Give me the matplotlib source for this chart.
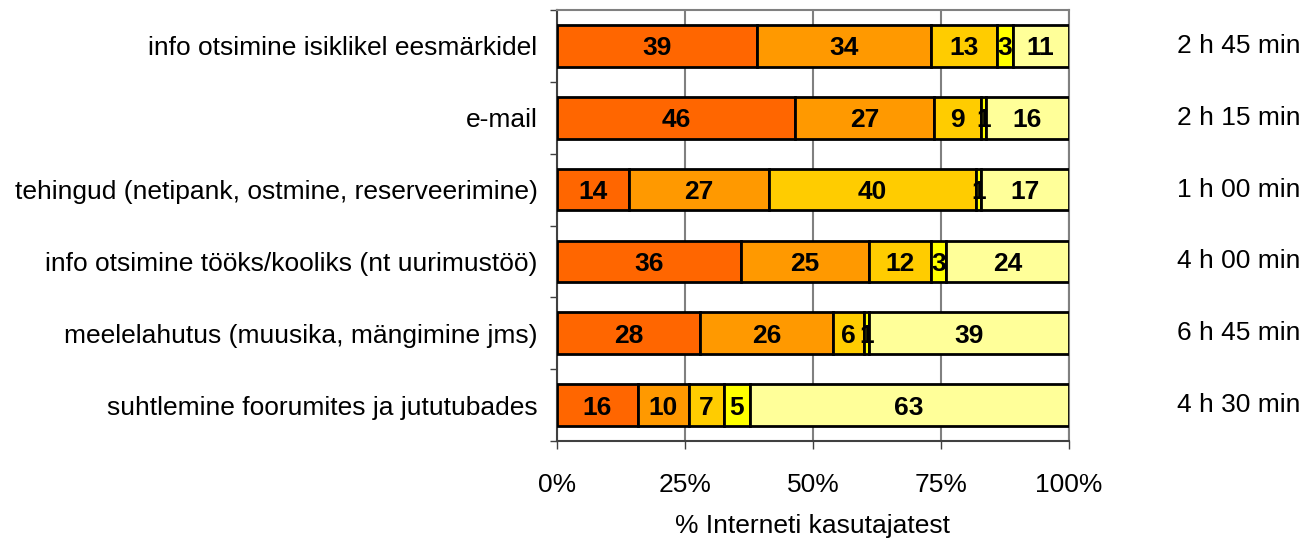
import matplotlib
matplotlib.use("Agg")
import matplotlib.pyplot as plt
import matplotlib.transforms as mtransforms
import numpy as np

plt.rcParams['font.family'] = ['Liberation Sans', 'DejaVu Sans']

categories = [
    "info otsimine isiklikel eesmärkidel",
    "e-mail",
    "tehingud (netipank, ostmine, reserveerimine)",
    "info otsimine tööks/kooliks (nt uurimustöö)",
    "meelelahutus (muusika, mängimine jms)",
    "suhtlemine foorumites ja jututubades",
]
times = ["2 h 45 min", "2 h 15 min", "1 h 00 min", "4 h 00 min", "6 h 45 min", "4 h 30 min"]

s1 = [39, 46, 14, 36, 28, 16]
s2 = [34, 27, 27, 25, 26, 10]
s3 = [13, 9, 40, 12, 6, 7]
s4 = [3, 1, 1, 3, 1, 5]
s5 = [11, 16, 17, 24, 39, 63]

colors = ["#FF6600", "#FF9900", "#FFCC00", "#FFFF00", "#FFFF99"]

data = np.array([s1, s2, s3, s4, s5], dtype=float)
share = data / data.sum(axis=0) * 100

FS = 19

fig = plt.figure(figsize=(13.12, 5.39), dpi=100)
ax = fig.add_axes([0.4245, 0.1818, 0.3902, 0.7996])

y = np.arange(len(categories))
left = np.zeros(len(categories))
for vals, raw, col in zip(share, data, colors):
    ax.barh(y, vals, left=left, height=0.58, color=col, edgecolor="black",
            linewidth=2.0, zorder=3)
    for yi, l, v, r in zip(y, left, vals, raw):
        ax.text(l + v / 2, yi, f"{int(r)}", ha="center", va="center_baseline",
                fontsize=FS, fontweight="bold", zorder=4)
    left += vals

ax.set_xlim(0, 100)
ax.set_ylim(len(categories) - 0.5, -0.5)
ax.set_xticks([0, 25, 50, 75, 100])
ax.set_xticklabels(["0%", "25%", "50%", "75%", "100%"], fontsize=FS)
ax.xaxis.grid(True, color="#808080", linewidth=1.5, zorder=0)
ax.set_xlabel("% Interneti kasutajatest", fontsize=FS, labelpad=12)

ax.set_yticks(np.arange(len(categories) + 1) - 0.5, minor=False)
ax.set_yticklabels([])
ax.set_yticks(y, minor=True)
ax.set_yticklabels(categories, minor=True, fontsize=FS)
ax.tick_params(axis="y", which="minor", length=0, pad=14)
ax.tick_params(axis="y", which="major", length=5, width=1, color="#404040")
ax.tick_params(axis="x", length=6, width=1, color="#404040", pad=17)

for side in ["top", "right"]:
    ax.spines[side].set_color("#808080")
    ax.spines[side].set_linewidth(1.5)
for side in ["left", "bottom"]:
    ax.spines[side].set_color("#404040")
    ax.spines[side].set_linewidth(1.5)

trans = mtransforms.blended_transform_factory(fig.transFigure, ax.transData)
for yi, t in zip(y, times):
    ax.text(0.9909, yi, t, ha="right", va="center", fontsize=FS, transform=trans)

fig.savefig("out.png", dpi=100)
